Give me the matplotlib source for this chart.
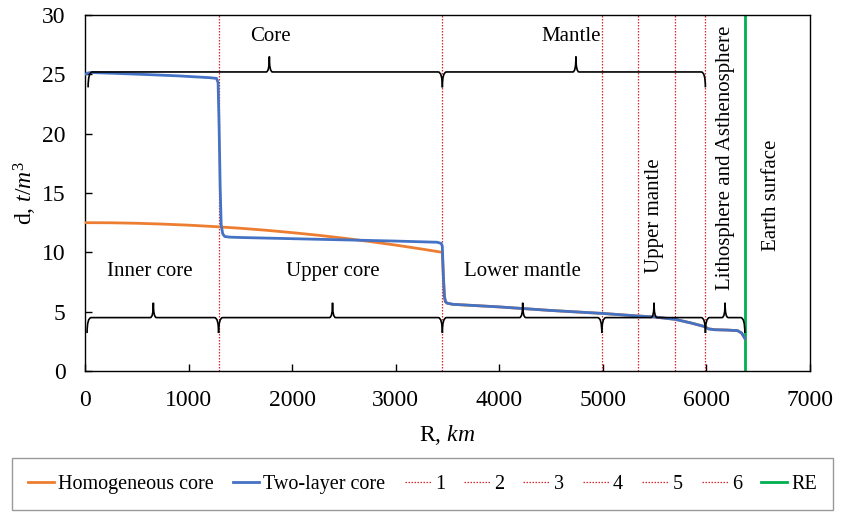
import numpy as np
import matplotlib
matplotlib.use("Agg")
import matplotlib.pyplot as plt
from matplotlib.path import Path
from matplotlib.patches import PathPatch

plt.rcParams["font.family"] = ["Liberation Serif", "DejaVu Serif"]
plt.rcParams["mathtext.fontset"] = "custom"
plt.rcParams["mathtext.rm"] = "Liberation Serif"
plt.rcParams["mathtext.it"] = "Liberation Serif:italic"

# density in the core, homogeneous model (km, t/m3)
r_core_homo = [0, 250, 500, 750, 1000, 1250, 1500, 1750, 2000, 2250, 2500, 2750, 3000, 3250, 3450]
d_core_homo = [12.50, 12.49, 12.45, 12.38, 12.29, 12.17, 12.03, 11.86, 11.66, 11.44, 11.19, 10.91, 10.61, 10.28, 10.00]

# density in the core, two-layer model
r_core_two = [0, 30, 60, 300, 600, 900, 1200, 1270, 1285, 1295, 1305, 1315, 1330, 1350, 1400, 1500,
              2000, 2500, 3000, 3400, 3440, 3450]
d_core_two = [25.00, 25.12, 25.15, 25.08, 24.98, 24.87, 24.72, 24.66, 24.3, 20.5, 15.5, 12.3, 11.55, 11.33, 11.28, 11.25,
              11.15, 11.05, 10.95, 10.85, 10.75, 10.5]

# mantle and crust (shared by both models)
r_mantle = [3460, 3470, 3480, 3495, 3550, 4000, 4500, 5000, 5300, 5500, 5700, 5850, 5980, 6020, 6080, 6200, 6300, 6340, 6371]
d_mantle = [8.0, 6.3, 5.85, 5.72, 5.62, 5.40, 5.10, 4.85, 4.66, 4.55, 4.35, 4.05, 3.75, 3.55, 3.48, 3.45, 3.40, 3.20, 2.75]

boundaries = [1290, 3450, 4990, 5340, 5700, 5990]
R_earth = 6371

# braces: (start, end, tip position)
top_braces = [(30, 3450, 1780), (3450, 5990, 4740)]
bottom_braces = [(20, 1290, 660), (1290, 3450, 2390), (3450, 4990, 4226), (4990, 5990, 5494), (5990, 6371, 6180)]

top_labels = [("Core", 1790, 28.2), ("Mantle", 4690, 28.2)]
bottom_labels = [("Inner core", 630, 8.4), ("Upper core", 2390, 8.4), ("Lower mantle", 4220, 8.4)]
vertical_labels = [("Upper mantle", 5494, 13.1), ("Lithosphere and Asthenosphere", 6180, 18.0),
                   ("Earth surface", 6625, 14.8)]


def brace(ax, x0, x1, xt, y, hook=1.3, tip=1.3, w=40, wt=30):
    verts = [(x0, y - hook), (x0, y), (x0 + w, y),
             (xt - wt, y), (xt, y), (xt, y + tip),
             (xt, y), (xt + wt, y),
             (x1 - w, y), (x1, y), (x1, y - hook)]
    codes = [Path.MOVETO, Path.CURVE3, Path.CURVE3,
             Path.LINETO, Path.CURVE3, Path.CURVE3,
             Path.CURVE3, Path.CURVE3,
             Path.LINETO, Path.CURVE3, Path.CURVE3]
    ax.add_patch(PathPatch(Path(verts, codes), fill=False, lw=1.2, color="black", zorder=4))


fig = plt.figure(figsize=(8.45, 5.25), dpi=100)
ax = fig.add_axes([85 / 845, 1 - 371 / 525, 725 / 845, 356 / 525])

ax.plot(r_core_homo + r_mantle, d_core_homo + d_mantle, color="#ED7D31", lw=2, label="Homogeneous core", zorder=3)
ax.plot(r_core_two + r_mantle, d_core_two + d_mantle, color="#4472C4", lw=2, label="Two-layer core", zorder=3)

for i, b in enumerate(boundaries):
    ax.axvline(b, color="#D9262E", lw=0.9, ls=(0, (1.2, 1.2)), label=str(i + 1), zorder=2)
ax.axvline(R_earth, color="#00B050", lw=2, label="RE", zorder=2)

for x0, x1, xt in top_braces:
    brace(ax, x0, x1, xt, 25.2)
for x0, x1, xt in bottom_braces:
    brace(ax, x0, x1, xt, 4.5, tip=1.25)

for s, x, y in top_labels + bottom_labels:
    ax.text(x, y, s, ha="center", va="center", fontsize=15)
for s, x, y in vertical_labels:
    ax.text(x, y, s, ha="center", va="center", rotation=90, fontsize=15)

ax.set_xlim(0, 7000)
ax.set_ylim(0, 30)
ax.set_xticks(range(0, 7001, 1000))
ax.set_yticks(range(0, 31, 5))
ax.tick_params(direction="in", length=5, width=1, labelsize=17, pad=14)
for sp in ax.spines.values():
    sp.set_linewidth(1)
ax.set_xlabel("R, $km$", fontsize=17, labelpad=8)
ax.set_ylabel("d, $t/m^3$", fontsize=17, labelpad=2)

fig.legend(loc="center", bbox_to_anchor=(0.5, 1 - 484 / 525), ncol=9, fontsize=14.5,
           frameon=True, fancybox=False, edgecolor="#808080", handlelength=1.3,
           handletextpad=0.2, columnspacing=0.95, borderpad=0.8)

fig.savefig("out.png", dpi=100)
